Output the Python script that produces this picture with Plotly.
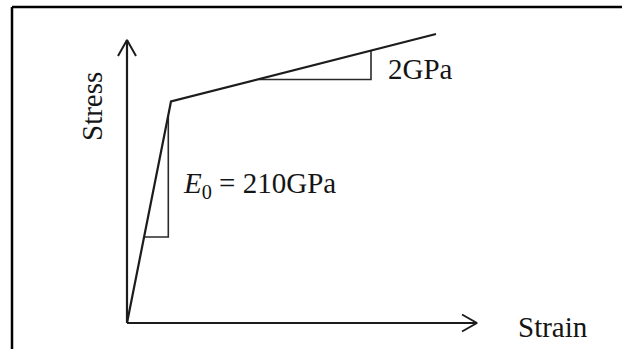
import plotly.graph_objects as go

# ---- data (schematic bilinear stress-strain curve) ----
strain = [0, 44, 309]
stress = [0, 221.5, 289]

# slope triangles
tri1_strain = [17, 41.3, 41.3]
tri1_stress = [86, 86, 207]
tri2_strain = [132, 244, 244]
tri2_stress = [243.5, 243.5, 272.5]

# axis extents
strain_axis_end = 350
stress_axis_end = 283

# labels
x_label = "Strain"
y_label = "Stress"
e0_label = "<i>E</i><sub>0</sub> = 210GPa"
e2_label = "2GPa"

FONT = "Liberation Serif, Times New Roman, serif"
INK = "#1c1c1c"

fig = go.Figure()

# axes
fig.add_trace(go.Scatter(x=[0, 0], y=[0, stress_axis_end], mode="lines",
                         line=dict(color=INK, width=2.2), hoverinfo="skip"))
fig.add_trace(go.Scatter(x=[0, strain_axis_end], y=[0, 0], mode="lines",
                         line=dict(color=INK, width=2.2), hoverinfo="skip"))
# arrowheads (open chevrons)
fig.add_trace(go.Scatter(x=[-9, 0, 9],
                         y=[stress_axis_end - 16, stress_axis_end, stress_axis_end - 16],
                         mode="lines", line=dict(color=INK, width=2), hoverinfo="skip"))
fig.add_trace(go.Scatter(x=[strain_axis_end - 15, strain_axis_end, strain_axis_end - 15],
                         y=[8.5, 0, -8.5],
                         mode="lines", line=dict(color=INK, width=2), hoverinfo="skip"))

# slope triangles
fig.add_trace(go.Scatter(x=tri1_strain, y=tri1_stress, mode="lines",
                         line=dict(color="#2a2a2a", width=1.6), hoverinfo="skip"))
fig.add_trace(go.Scatter(x=tri2_strain, y=tri2_stress, mode="lines",
                         line=dict(color="#2a2a2a", width=1.6), hoverinfo="skip"))

# curve
fig.add_trace(go.Scatter(x=strain, y=stress, mode="lines",
                         line=dict(color=INK, width=2.2), hoverinfo="skip"))

annos = [
    dict(x=389, y=-4, text=x_label, xanchor="left", yanchor="middle"),
    dict(x=-35, y=216, text=y_label, xanchor="center", yanchor="middle", textangle=-90),
    dict(x=54, y=138, text=e0_label, xanchor="left", yanchor="middle"),
    dict(x=259, y=254, text=e2_label, xanchor="left", yanchor="middle"),
]
for a in annos:
    a.update(xref="x", yref="y", showarrow=False,
             font=dict(family=FONT, size=29, color="#151515"))
fig.update_layout(annotations=annos)

# frame (top and left border)
fig.add_shape(type="line", xref="paper", yref="paper",
              x0=12 / 622, x1=1, y0=1 - 7 / 349, y1=1 - 7 / 349,
              line=dict(color="black", width=2.5))
fig.add_shape(type="line", xref="paper", yref="paper",
              x0=12 / 622, x1=12 / 622, y0=0, y1=1 - 7 / 349,
              line=dict(color="black", width=2.5))

fig.update_layout(
    width=622, height=349,
    margin=dict(l=0, r=0, t=0, b=0),
    paper_bgcolor="white", plot_bgcolor="white",
    showlegend=False,
    hovermode=False,
    xaxis=dict(range=[-127, 495], visible=False, fixedrange=True),
    yaxis=dict(range=[-26, 323], visible=False, fixedrange=True),
)

fig.write_html("out.html", config={"displayModeBar": False},
               post_script="document.body.style.margin='0px';")
